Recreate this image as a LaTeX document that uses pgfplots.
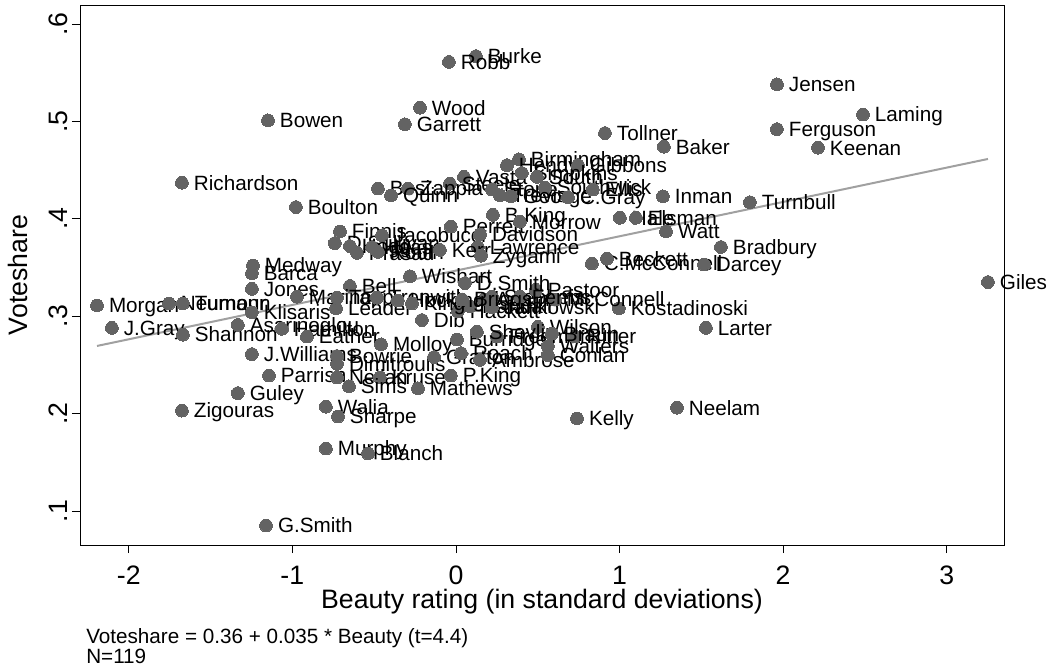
\documentclass[border=0pt]{standalone}
\usepackage{fontspec}
\setmainfont{Liberation Sans}
\usepackage{pgfplots}
\pgfplotsset{compat=1.18}
\definecolor{dotgray}{HTML}{636363}
\definecolor{linegray}{HTML}{A0A0A0}
\begin{document}
\begin{tikzpicture}
\begin{axis}[name=ax, scale only axis, width=693pt, height=405pt,
  xmin=-2.298, xmax=3.350, ymin=0.065, ymax=0.6195,
  xtick={-2,-1,0,1,2,3}, xticklabels={-2,-1,0,1,2,3},
  ytick={0.1,0.2,0.3,0.4,0.5,0.6}, yticklabels={.1,.2,.3,.4,.5,.6},
  tick pos=left, tick align=outside, major tick length=6pt,
  tick style={black, line width=0.6pt},
  axis line style={line width=0.6pt},
  ticklabel style={font=\fontsize{20}{24}\selectfont},
  xticklabel style={yshift=-6pt},
  yticklabel style={rotate=90, anchor=south},
  clip=false,
]
\addplot[linegray, line width=1.5pt] coordinates {(-2.194,0.2694) (3.252,0.4614)};
\addplot[dotgray, only marks, mark=*, mark size=4.8pt, mark options={solid, draw=dotgray, fill=dotgray, line width=0pt},
  nodes near coords, point meta=explicit symbolic,
  nodes near coords align={anchor=base west},
  every node near coord/.append style={inner sep=0pt, xshift=9pt, yshift=-5.5pt, font=\fontsize{15.5}{18}\selectfont, text=black}]
  table[x=x,y=y,meta=n] {
x y n
0.122 0.567 Burke
-0.043 0.561 Robb
-0.220 0.514 Wood
-1.149 0.501 Bowen
-0.312 0.497 Garrett
1.962 0.538 Jensen
2.488 0.507 Laming
1.962 0.492 Ferguson
2.213 0.473 Keenan
0.911 0.488 Tollner
1.271 0.474 Baker
-1.675 0.437 Richardson
-0.978 0.412 Boulton
1.265 0.423 Inman
1.797 0.417 Turnbull
1.002 0.401 Hale
1.100 0.401 Elsman
1.284 0.387 Watt
1.620 0.371 Bradbury
0.831 0.354 C.McConnell
0.923 0.359 Beckett
1.516 0.353 Darcey
3.252 0.335 Giles
0.996 0.308 Kostadinoski
1.528 0.288 Larter
1.351 0.206 Neelam
0.740 0.195 Kelly
-1.241 0.352 Medway
-1.247 0.344 Barca
-1.247 0.328 Jones
-2.194 0.311 Morgan
-1.754 0.313 Neumann
-1.669 0.313 Turnour
-2.103 0.288 J.Gray
-1.669 0.281 Shannon
-1.247 0.304 Klisaris
-1.333 0.291 Asarinoglou
-1.064 0.287 Hamilton
-0.911 0.279 Eather
-1.247 0.261 J.Williams
-1.143 0.239 Parrish
-1.333 0.221 Guley
-1.675 0.203 Zigouras
-0.795 0.207 Walia
-0.721 0.197 Sharpe
-0.795 0.164 Murphy
-0.538 0.159 Blanch
-1.161 0.085 G.Smith
-0.727 0.259 Bowrie
-0.727 0.251 Dimitroulis
-0.727 0.237 Neilan
-0.465 0.237 Kruse
-0.654 0.228 Sims
-0.232 0.226 Mathews
-0.031 0.239 P.King
-0.458 0.271 Molloy
-0.134 0.258 Gratton
0.031 0.262 Roach
0.147 0.255 Ambrose
0.006 0.276 Burridge
0.251 0.279 Freeman
0.562 0.269 Walters
0.562 0.260 Conlan
0.727 0.279 Ritter
0.501 0.289 Wilson
0.128 0.284 Shevlin
0.587 0.282 Braun
-0.208 0.296 Dib
0.012 0.305 Hackett
0.086 0.310 Randall
0.220 0.309 Jankowski
0.220 0.320 Stephens
0.171 0.317 Adams
0.489 0.327 Pastoor
0.605 0.317 McConnell
0.391 0.320 Ferris
-0.281 0.341 Wishart
0.055 0.334 D.Smith
-0.648 0.331 Bell
-0.733 0.308 Leader
-0.972 0.320 Marino
-0.727 0.319 Tapp
-0.483 0.319 Trenwith
-0.355 0.316 Hocking
-0.269 0.313 King
0.037 0.317 Briggs
-0.709 0.387 Finnis
-0.740 0.375 D.Sullivan
-0.452 0.383 Jacobucci
-0.031 0.392 Perrett
0.147 0.384 Davidson
0.134 0.371 Lawrence
0.226 0.404 B.King
0.391 0.397 Morrow
-0.605 0.365 Prasad
-0.648 0.372 Hogg
-0.477 0.366 Robin
-0.513 0.371 Haase
-0.098 0.368 Kerr
0.153 0.362 Zygami
0.385 0.461 Birmingham
0.312 0.455 Hendy
0.746 0.455 Gibbons
0.049 0.443 Vasta
0.403 0.447 Simpkins
0.495 0.443 South
-0.037 0.436 Steele
-0.477 0.431 Bosi
-0.293 0.431 Zappia
-0.397 0.424 Quinn
0.220 0.430 Stone
0.269 0.424 Trevis
0.544 0.432 Southwick
0.336 0.423 George
0.685 0.422 C.Gray
0.837 0.430 Ellis
};
\end{axis}
\node[font=\fontsize{20}{24}\selectfont, anchor=center] at ([yshift=-42.75pt]ax.south) {Beauty rating (in standard deviations)};
\node[font=\fontsize{20}{24}\selectfont, anchor=center, rotate=90] at ([xshift=-46.5pt]ax.west) {Voteshare};
\node[font=\fontsize{15.5}{18}\selectfont, anchor=base west, inner sep=0pt] at ([xshift=4.5pt,yshift=-73.5pt]ax.south west) {Voteshare = 0.36 + 0.035 * Beauty (t=4.4)};
\node[font=\fontsize{15.5}{18}\selectfont, anchor=base west, inner sep=0pt] at ([xshift=4.5pt,yshift=-88.5pt]ax.south west) {N=119};
\pgfresetboundingbox
\path ([xshift=-60pt,yshift=-93pt]ax.south west) rectangle ([xshift=35.25pt,yshift=3.75pt]ax.north east);
\end{tikzpicture}
\end{document}
